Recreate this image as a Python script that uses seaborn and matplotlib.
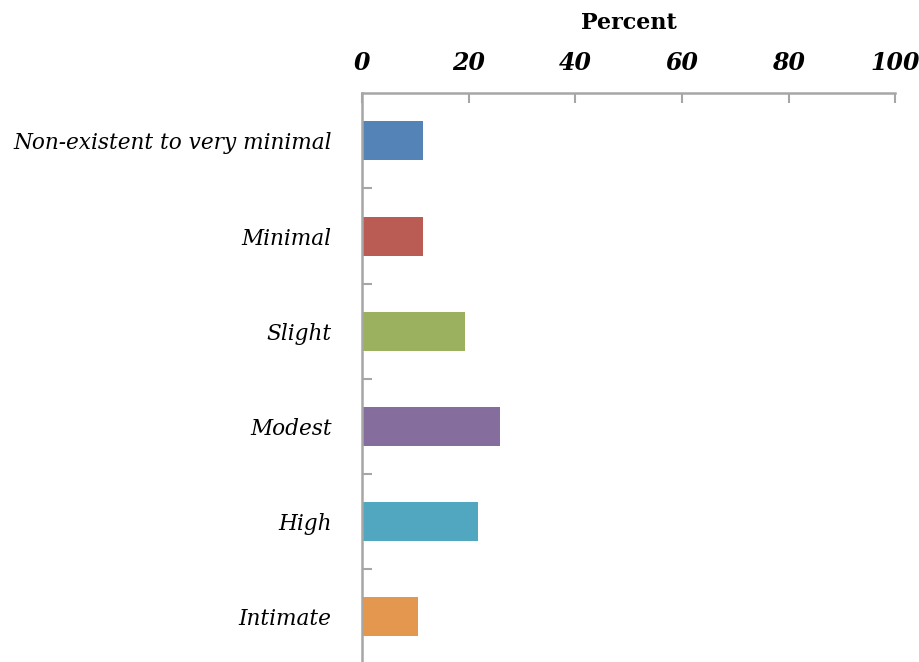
import pandas as pd
import seaborn as sns
import matplotlib.pyplot as plt
from matplotlib.ticker import FixedLocator

categories = ["Non-existent to very minimal", "Minimal", "Slight", "Modest", "High", "Intimate"]
percent = [11.5, 11.5, 19.4, 25.8, 21.8, 10.4]
colors = ["#5484B7", "#BA5B54", "#9BB15F", "#856D9D", "#50A7BF", "#E4984F"]
xticks = [0, 20, 40, 60, 80, 100]

df = pd.DataFrame({"category": categories, "percent": percent})

sns.set_theme(style="white")
plt.rcParams['font.family'] = ['DejaVu Serif']
plt.rcParams['text.color'] = 'black'

fig = plt.figure(figsize=(9.19, 6.62), dpi=100)
ax = fig.add_axes([0.394, -0.003, 0.580, 0.862])

sns.barplot(data=df, y="category", x="percent", hue="category", palette=colors,
            orient="h", width=0.41, saturation=1, legend=False, linewidth=0, ax=ax)

ax.set_xlim(0, 100)
ax.set_ylim(5.5, -0.5)
ax.xaxis.tick_top()
ax.xaxis.set_label_position("top")
ax.set_xticks(xticks)
ax.set_xticklabels([str(t) for t in xticks], fontsize=17, fontweight="bold", fontstyle="italic")
ax.set_xlabel("Percent", fontsize=16, fontweight="bold", labelpad=16, color="black")
ax.set_ylabel("")

ax.set_yticks(range(len(categories)))
ax.set_yticklabels(categories, fontsize=15.6, fontstyle="italic")
ax.yaxis.set_minor_locator(FixedLocator([i + 0.5 for i in range(len(categories))]))

grey = "#A6A6A6"
for side in ["right", "bottom"]:
    ax.spines[side].set_visible(False)
for side in ["top", "left"]:
    ax.spines[side].set_color(grey)
    ax.spines[side].set_linewidth(1.8)

ax.tick_params(axis="x", which="major", direction="in", length=7, width=1.5,
               color=grey, pad=13, top=True, bottom=False, labelcolor="black")
ax.tick_params(axis="y", which="major", length=0, pad=22, labelcolor="black")
ax.tick_params(axis="y", which="minor", direction="in", length=7, width=1.5,
               color=grey, left=True)

fig.savefig("out.png", dpi=100)
plt.close(fig)
